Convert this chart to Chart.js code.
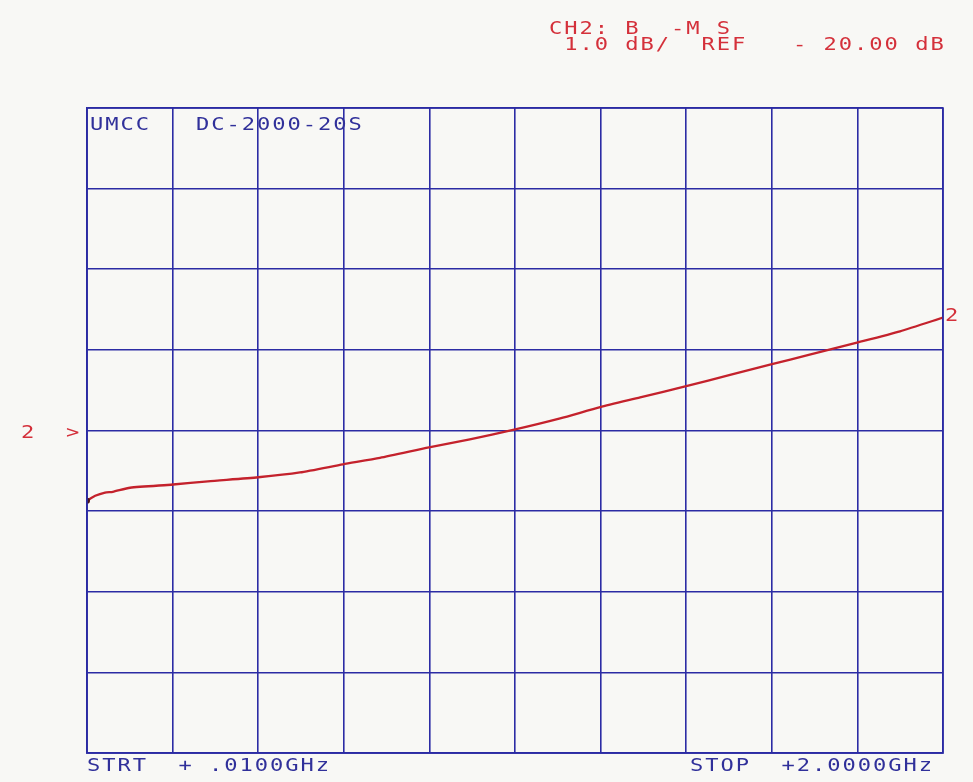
<!DOCTYPE html>
<html>
<head>
<meta charset="utf-8">
<script src="https://cdn.jsdelivr.net/npm/chart.js@4/dist/chart.umd.min.js"></script>
<style>
  html, body { margin: 0; padding: 0; background: #f8f8f5; }
  #wrap { position: relative; width: 973px; height: 782px; }
  #plot { position: absolute; left: 0; top: 0; }
  .t {
    position: absolute;
    font-family: "DejaVu Sans Mono", "Liberation Mono", monospace;
    font-size: 17px;
    line-height: 17px;
    white-space: pre;
    letter-spacing: 1.5px;
    transform: scaleX(1.3);
    transform-origin: 0 0;
  }
  .red { color: #d4303a; }
  .blue { color: #30309a; }
</style>
</head>
<body>
<div id="wrap">
  <canvas id="plot" width="973" height="782"></canvas>
  <div class="t red" style="left:549px; top:20px;">CH2: B  -M S</div>
  <div class="t red" style="left:549px; top:36px;"> 1.0 dB/  REF   - 20.00 dB</div>
  <div class="t blue" style="left:90px; top:116px;">UMCC</div>
  <div class="t blue" style="left:196px; top:116px;">DC-2000-20S</div>
  <div class="t red" style="left:21px; top:424px;">2</div>
  <div class="t red" style="left:66px; top:424px;">&gt;</div>
  <div class="t red" style="left:945px; top:307px;">2</div>
  <div class="t blue" style="left:87px; top:757px;">STRT  + .0100GHz</div>
  <div class="t blue" style="left:690px; top:757px;">STOP  +2.0000GHz</div>
</div>
<script>
// sweep settings
let startGHz = 0.01;
let stopGHz = 2.0;
let refDb = -20;
let dbPerDiv = 1;
let xDivs = 10;
let yDivs = 8;

// trace (GHz, dB)
let freqs = [0.01, 0.029, 0.052, 0.07, 0.11, 0.21, 0.291, 0.408, 0.505, 0.605, 0.691,
             0.805, 0.90, 1.003, 1.11, 1.203, 1.296, 1.403, 1.505, 1.60, 1.69, 1.80, 1.90, 2.0];
let gainDb = [-20.87, -20.81, -20.77, -20.76, -20.71, -20.67, -20.63, -20.58, -20.52, -20.42, -20.34,
              -20.21, -20.11, -19.99, -19.85, -19.71, -19.59, -19.45, -19.31, -19.18, -19.06, -18.91, -18.77, -18.60];

let gridBlue = '#2c2ca4';
let traceRed = '#c4222c';

let points = freqs.map((f, i) => ({x: f, y: gainDb[i]}));

let ctx = document.getElementById('plot').getContext('2d');
let chart = new Chart(ctx, {
  type: 'line',
  data: {
    datasets: [{
      data: points,
      borderColor: traceRed,
      borderWidth: 2.3,
      tension: 0.2,
      fill: false,
      pointRadius: c => c.dataIndex === 0 ? 3 : 0,
      pointBackgroundColor: '#4a1414',
      pointBorderWidth: 0
    }]
  },
  options: {
    responsive: false,
    animation: false,
    devicePixelRatio: 1,
    layout: { padding: { left: 87, right: 30, top: 108, bottom: 29 } },
    plugins: { legend: { display: false }, tooltip: { enabled: false } },
    scales: {
      x: {
        type: 'linear',
        min: startGHz,
        max: stopGHz,
        afterBuildTicks: s => {
          let step = (stopGHz - startGHz) / xDivs;
          s.ticks = [];
          for (let i = 0; i <= xDivs; i++) s.ticks.push({ value: startGHz + i * step });
        },
        ticks: { display: false },
        grid: { color: gridBlue, lineWidth: 1.6, drawTicks: false },
        border: { color: gridBlue, width: 1.6 }
      },
      y: {
        min: refDb - dbPerDiv * yDivs / 2,
        max: refDb + dbPerDiv * yDivs / 2,
        ticks: { display: false, stepSize: dbPerDiv },
        grid: { color: gridBlue, lineWidth: 1.6, drawTicks: false },
        border: { color: gridBlue, width: 1.6 }
      }
    }
  },
  plugins: [{
    // outer frame (top and right edges)
    id: 'frame',
    afterDraw: c => {
      let a = c.chartArea;
      let g = c.ctx;
      g.save();
      g.strokeStyle = gridBlue;
      g.lineWidth = 1.6;
      g.strokeRect(a.left, a.top, a.right - a.left, a.bottom - a.top);
      g.restore();
    }
  }]
});
</script>
</body>
</html>
